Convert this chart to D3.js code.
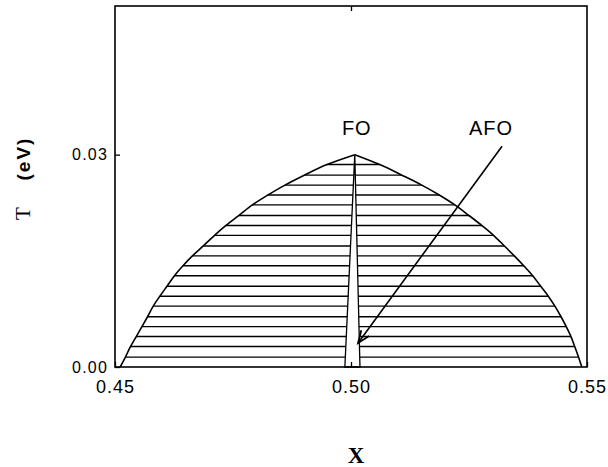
<!DOCTYPE html>
<html>
<head>
<meta charset="utf-8">
<script src="https://cdn.jsdelivr.net/npm/d3@7"></script>
<style>
  html, body { margin: 0; padding: 0; background: #fff; }
  svg { display: block; }
  text { fill: #000; }
</style>
</head>
<body>
<svg id="chart" width="608" height="467"></svg>
<script>
// Phase boundary T(x): left branch (rising) and right branch (falling)
const leftX  = [0.4511, 0.4522, 0.4533, 0.4545, 0.4557, 0.4569, 0.4581, 0.4595, 0.4610, 0.4626, 0.4644,
                0.4664, 0.4687, 0.4711, 0.4735, 0.4762, 0.4791, 0.4824, 0.4860, 0.4901, 0.4949, 0.5008];
const leftT  = [0.0000, 0.0014, 0.0029, 0.0043, 0.0057, 0.0071, 0.0086, 0.0100, 0.0114, 0.0129, 0.0143,
                0.0157, 0.0171, 0.0186, 0.0200, 0.0214, 0.0229, 0.0243, 0.0257, 0.0271, 0.0286, 0.0300];
const rightX = [0.5008, 0.5061, 0.5108, 0.5150, 0.5187, 0.5220, 0.5250, 0.5277, 0.5302, 0.5325, 0.5346,
                0.5366, 0.5385, 0.5402, 0.5418, 0.5432, 0.5445, 0.5456, 0.5466, 0.5474, 0.5482, 0.5489];
const rightT = [0.0300, 0.0286, 0.0271, 0.0257, 0.0243, 0.0229, 0.0214, 0.0200, 0.0186, 0.0171, 0.0157,
                0.0143, 0.0129, 0.0114, 0.0100, 0.0086, 0.0071, 0.0057, 0.0043, 0.0029, 0.0014, 0.0000];

// Hatching levels inside the ordered region
const hatchT = [0.0014, 0.0029, 0.0043, 0.0057, 0.0071, 0.0086, 0.0100, 0.0114, 0.0129, 0.0143,
                0.0157, 0.0171, 0.0186, 0.0200, 0.0214, 0.0229, 0.0243, 0.0257, 0.0271, 0.0286];

// Narrow AFO wedge: apex and its two base corners
const wedgeX = [0.4987, 0.5008, 0.5019];
const wedgeT = [0.0000, 0.0300, 0.0000];

// Arrow pointing at the AFO wedge: [start, tip]
const arrowX = [0.5320, 0.5015];
const arrowT = [0.0312, 0.0034];

const xTicks = [0.45, 0.50, 0.55];
const yTicks = [0.00, 0.03];

const svg = d3.select("#chart");
const x = d3.scaleLinear().domain([0.45, 0.55]).range([115, 587]);
const y = d3.scaleLinear().domain([0, 0.051]).range([367, 6]);

const left  = leftX.map((v, i) => [v, leftT[i]]);
const right = rightX.map((v, i) => [v, rightT[i]]);

const branch = d3.line().x(d => x(d[0])).y(d => y(d[1])).curve(d3.curveCatmullRom.alpha(0.5));
const leftPath = branch(left);
const rightPath = branch(right);
const domePath = leftPath + rightPath.replace(/^M/, "L") + "Z";

svg.append("clipPath").attr("id", "dome")
  .append("path").attr("d", domePath);

// horizontal hatching clipped to the dome
svg.append("g").attr("clip-path", "url(#dome)")
  .selectAll("line").data(hatchT).join("line")
  .attr("x1", x(0.45)).attr("x2", x(0.55))
  .attr("y1", d => y(d)).attr("y2", d => y(d))
  .attr("stroke", "#000").attr("stroke-width", 1.4);

// AFO wedge
const wedge = wedgeX.map((v, i) => [x(v), y(wedgeT[i])]);
svg.append("path")
  .attr("d", d3.line()(wedge) + "Z")
  .attr("fill", "#fff").attr("stroke", "#000").attr("stroke-width", 1.3)
  .attr("stroke-linejoin", "miter");

// boundary curves
svg.append("path").attr("d", leftPath)
  .attr("fill", "none").attr("stroke", "#000").attr("stroke-width", 1.6);
svg.append("path").attr("d", rightPath)
  .attr("fill", "none").attr("stroke", "#000").attr("stroke-width", 1.6);

// frame
svg.append("rect")
  .attr("x", x(0.45)).attr("y", y(0.051))
  .attr("width", x(0.55) - x(0.45)).attr("height", y(0) - y(0.051))
  .attr("fill", "none").attr("stroke", "#000").attr("stroke-width", 1.6);

const tickFont = g => g.selectAll("text")
  .attr("font-family", "'Liberation Sans', Arial, Helvetica, sans-serif")
  .attr("fill", "#000");

// bottom axis with inward ticks
svg.append("g").attr("transform", `translate(0,${y(0)})`)
  .call(d3.axisBottom(x).tickValues(xTicks).tickFormat(d3.format(".2f"))
    .tickSizeInner(-5).tickSizeOuter(0).tickPadding(13))
  .call(g => g.select(".domain").remove())
  .call(g => g.selectAll("line").attr("stroke", "#000").attr("stroke-width", 1.3))
  .call(tickFont)
  .call(g => g.selectAll("text").attr("font-size", 18).attr("letter-spacing", 1));

// top axis: tick marks only
svg.append("g").attr("transform", `translate(0,${y(0.051)})`)
  .call(d3.axisTop(x).tickValues([0.50]).tickFormat("").tickSizeInner(-5).tickSizeOuter(0))
  .call(g => g.select(".domain").remove())
  .call(g => g.selectAll("line").attr("stroke", "#000").attr("stroke-width", 1.3));

// left axis with inward ticks
svg.append("g").attr("transform", `translate(${x(0.45)},0)`)
  .call(d3.axisLeft(y).tickValues(yTicks).tickFormat(d3.format(".2f"))
    .tickSizeInner(-5).tickSizeOuter(0).tickPadding(7))
  .call(g => g.select(".domain").remove())
  .call(g => g.selectAll("line").attr("stroke", "#000").attr("stroke-width", 1.3))
  .call(tickFont)
  .call(g => g.selectAll("text").attr("font-size", 16).attr("letter-spacing", 1.2));

// axis titles
svg.append("text")
  .attr("transform", "translate(30,213.5) rotate(-90)")
  .attr("text-anchor", "middle")
  .attr("font-family", "'Liberation Serif', 'Times New Roman', serif")
  .attr("font-size", 21)
  .text("T");
svg.append("text")
  .attr("transform", "translate(30,158.5) rotate(-90)")
  .attr("text-anchor", "middle")
  .attr("font-family", "'Liberation Sans', Arial, sans-serif")
  .attr("font-size", 19).attr("font-weight", "bold").attr("letter-spacing", 2)
  .text("(eV)");
svg.append("text")
  .attr("x", 356).attr("y", 463)
  .attr("text-anchor", "middle")
  .attr("font-family", "'Liberation Serif', 'Times New Roman', serif")
  .attr("font-size", 23).attr("font-weight", "bold")
  .text("X");

// region labels
svg.append("text")
  .attr("x", x(0.5008) + 2).attr("y", 135)
  .attr("text-anchor", "middle")
  .attr("font-family", "'Liberation Sans', Arial, sans-serif")
  .attr("font-size", 20).attr("letter-spacing", 1)
  .text("FO");
svg.append("text")
  .attr("x", 491).attr("y", 135)
  .attr("text-anchor", "middle")
  .attr("font-family", "'Liberation Sans', Arial, sans-serif")
  .attr("font-size", 20).attr("letter-spacing", 1)
  .text("AFO");

// arrow
const ax0 = x(arrowX[0]), ay0 = y(arrowT[0]);
const ax1 = x(arrowX[1]), ay1 = y(arrowT[1]);
svg.append("line")
  .attr("x1", ax0).attr("y1", ay0).attr("x2", ax1).attr("y2", ay1)
  .attr("stroke", "#000").attr("stroke-width", 1.6);
const ang = Math.atan2(ay0 - ay1, ax0 - ax1);
const head = 13, spread = 0.38;
svg.append("path")
  .attr("d", `M${ax1 + head * Math.cos(ang - spread)},${ay1 + head * Math.sin(ang - spread)}
              L${ax1},${ay1}
              L${ax1 + head * Math.cos(ang + spread)},${ay1 + head * Math.sin(ang + spread)}`)
  .attr("fill", "none").attr("stroke", "#000").attr("stroke-width", 1.8);
</script>
</body>
</html>
